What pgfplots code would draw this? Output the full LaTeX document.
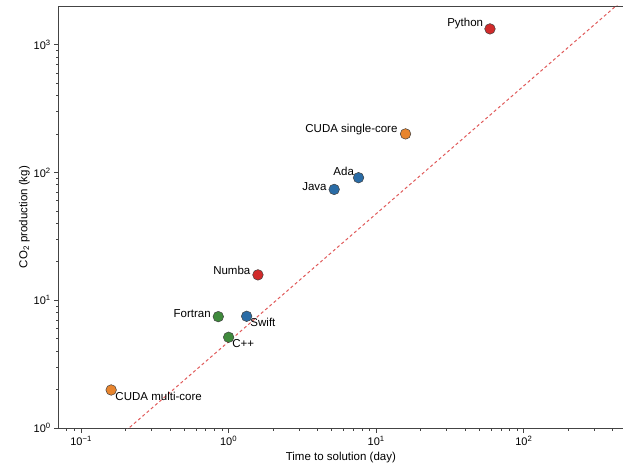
\documentclass[border=0pt]{standalone}
\usepackage{fontspec}
\setmainfont{Liberation Sans}
\usepackage{pgfplots}
\pgfplotsset{compat=1.18}

\definecolor{pyred}{HTML}{D12B2B}
\definecolor{cudaorange}{HTML}{E8852E}
\definecolor{langblue}{HTML}{2A6CA6}
\definecolor{langgreen}{HTML}{3F8A3C}
\definecolor{fitred}{HTML}{E05A5A}
\definecolor{axisgray}{HTML}{444444}

\newcommand{\sci}[1]{10\textsuperscript{#1}}

\begin{document}
\begin{tikzpicture}[font=\fontsize{11.5}{13.5}\selectfont]
\begin{axis}[
  name=ax,
  scale only axis,
  width=564pt, height=422pt,
  xmode=log, ymode=log,
  xmin=0.0706, xmax=470,
  ymin=1, ymax=2000,
  axis x line*=box,
  axis y line*=left,
  axis line style={axisgray, line width=0.9pt},
  tick style={axisgray, line width=0.7pt},
  major tick length=4.5pt, minor tick length=2.5pt,
  tick align=outside,
  xtick pos=bottom, ytick pos=left,
  xtick={0.1,1,10,100},
  xticklabels={\sci{−1},\sci{0},\sci{1},\sci{2}},
  ytick={1,10,100,1000},
  yticklabels={\sci{0},\sci{1},\sci{2},\sci{3}},
  minor xtick={0.08,0.09,0.2,0.3,0.4,0.5,0.6,0.7,0.8,0.9,2,3,4,5,6,7,8,9,20,30,40,50,60,70,80,90,200,300,400},
  minor ytick={2,3,4,5,6,7,8,9,20,30,40,50,60,70,80,90,200,300,400,500,600,700,800,900},
  ticklabel style={font=\fontsize{11}{13}\selectfont},
  xlabel={Time to solution (day)},
  ylabel={CO\textsubscript{2} production (kg)},
  xlabel style={yshift=0pt},
  ylabel style={yshift=-3pt},
  clip=true,
]
% proportional trend line
\addplot[fitred, line width=1pt, dash pattern=on 3pt off 2.6pt, forget plot]
  coordinates {(0.05,0.2375) (1000,4750)};

% languages: time (day), CO2 (kg)
\addplot[only marks, mark=*, mark size=5.3pt, mark options={fill=pyred, draw=black!75, line width=0.5pt}]
  coordinates {(59,1324)};
\addplot[only marks, mark=*, mark size=5.3pt, mark options={fill=pyred, draw=black!75, line width=0.5pt}]
  coordinates {(1.58,15.8)};
\addplot[only marks, mark=*, mark size=5.3pt, mark options={fill=cudaorange, draw=black!75, line width=0.5pt}]
  coordinates {(15.8,200) (0.16,1.99)};
\addplot[only marks, mark=*, mark size=5.3pt, mark options={fill=langblue, draw=black!75, line width=0.5pt}]
  coordinates {(7.59,90.9) (5.19,73.6) (1.325,7.5)};
\addplot[only marks, mark=*, mark size=5.3pt, mark options={fill=langgreen, draw=black!75, line width=0.5pt}]
  coordinates {(0.851,7.45) (1.0,5.14)};

% labels
\node[anchor=east, inner sep=1pt] at (axis cs:54,1450) {Python};
\node[anchor=east, inner sep=1pt] at (axis cs:14.2,215) {CUDA single-core};
\node[anchor=east, inner sep=1pt] at (axis cs:7.2,101) {Ada};
\node[anchor=east, inner sep=1pt] at (axis cs:4.7,78) {Java};
\node[anchor=east, inner sep=1pt] at (axis cs:1.43,17.2) {Numba};
\node[anchor=east, inner sep=1pt] at (axis cs:0.77,7.85) {Fortran};
\node[anchor=west, inner sep=1pt] at (axis cs:1.38,6.7) {Swift};
\node[anchor=west, inner sep=1pt] at (axis cs:1.04,4.55) {C++};
\node[anchor=west, inner sep=1pt] at (axis cs:0.168,1.76) {CUDA multi-core};
\end{axis}
\pgfresetboundingbox
\path[use as bounding box] ([shift={(-58.7pt,-41pt)}]ax.south west) rectangle ([shift={(1pt,6pt)}]ax.north east);
\end{tikzpicture}
\end{document}
